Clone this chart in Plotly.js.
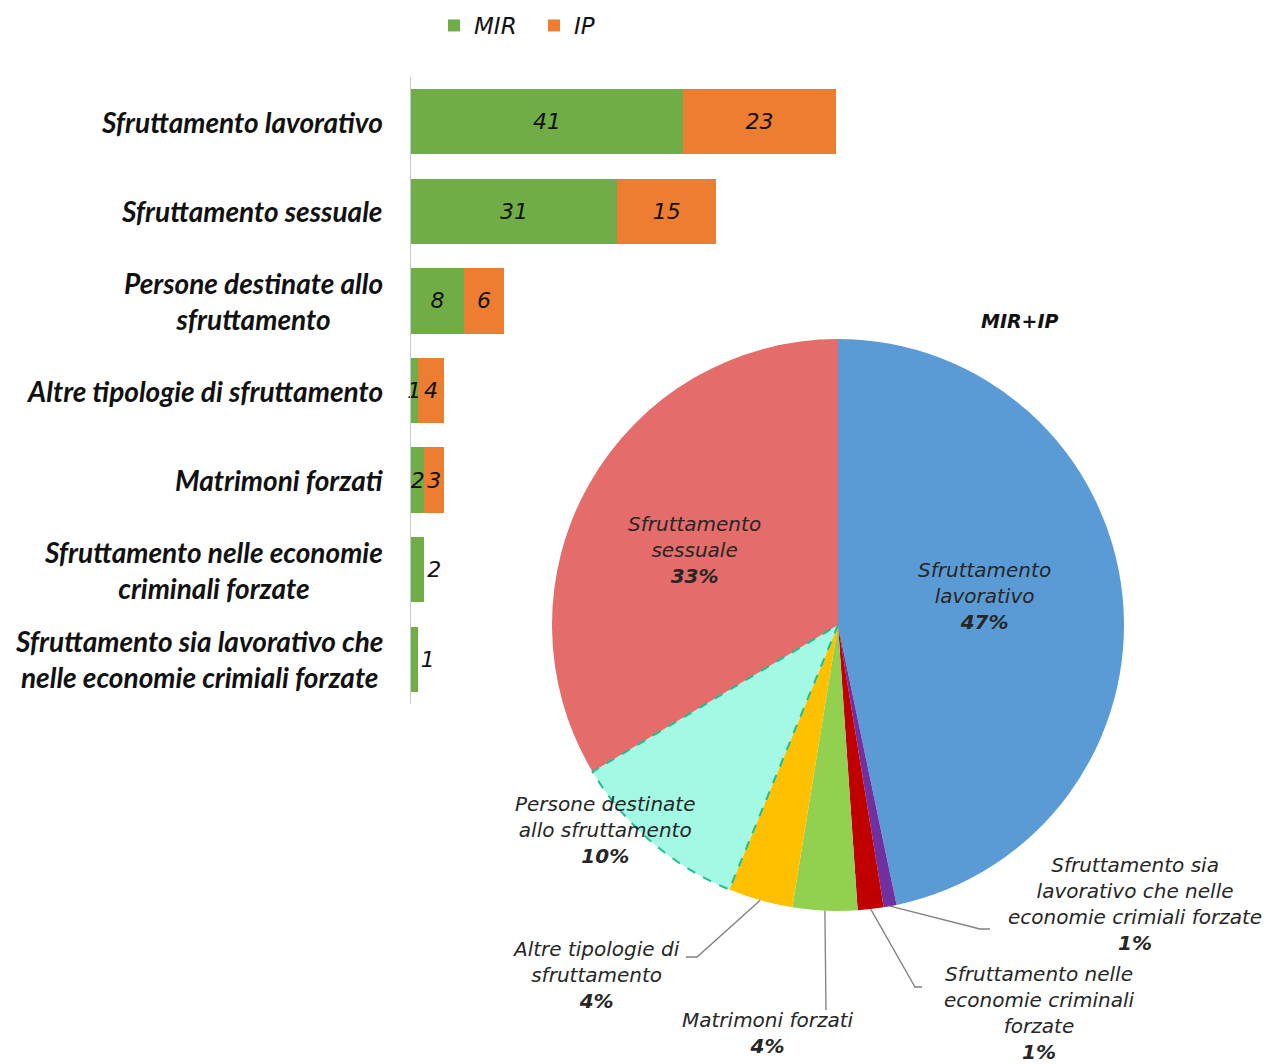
<!DOCTYPE html>
<html>
<head>
<meta charset="utf-8">
<script src="https://cdn.plot.ly/plotly-3.0.1.min.js"></script>
<style>html,body{margin:0;padding:0;background:#fff;}#chart{width:1270px;height:1064px;}</style>
</head>
<body>
<div id="chart"></div>
<script>
// ---- Data ----
const categories = [
  'Sfruttamento lavorativo',
  'Sfruttamento sessuale',
  'Persone destinate allo sfruttamento',
  'Altre tipologie di sfruttamento',
  'Matrimoni forzati',
  'Sfruttamento nelle economie criminali forzate',
  'Sfruttamento sia lavorativo che nelle economie crimiali forzate'
];
const categoryTickLabels = [
  'Sfruttamento lavorativo',
  'Sfruttamento sessuale',
  'Persone destinate allo<br>sfruttamento',
  'Altre tipologie di sfruttamento',
  'Matrimoni forzati',
  'Sfruttamento nelle economie<br>criminali forzate',
  'Sfruttamento sia lavorativo che<br>nelle economie crimiali forzate'
];
const mirValues = [41, 31, 8, 1, 2, 2, 1];
const ipValues  = [23, 15, 6, 4, 3, null, null];
const seriesNames = ['MIR', 'IP'];

// pie: slice order clockwise from 12 o'clock (indices into categories)
const pieOrder = [0, 6, 5, 4, 3, 2, 1];
const pieLabelText = [
  'Sfruttamento<br>lavorativo',
  'Sfruttamento sia<br>lavorativo che nelle<br>economie crimiali forzate',
  'Sfruttamento nelle<br>economie criminali<br>forzate',
  'Matrimoni forzati',
  'Altre tipologie di<br>sfruttamento',
  'Persone destinate<br>allo sfruttamento',
  'Sfruttamento<br>sessuale'
];
const pieShareLabels = ['47%', '1%', '1%', '4%', '4%', '10%', '33%'];
const pieTitle = 'MIR+IP';

// ---- Derived ----
const pieValues = pieOrder.map(i => mirValues[i] + (ipValues[i] || 0));
const pieLabels = pieOrder.map(i => categories[i]);

// ---- Layout helpers (pixel -> paper) ----
const W = 1270, H = 1064;
const px = x => x / W;
const py = y => 1 - y / H;

const pieColors = ['#5B9BD5', '#7030A0', '#C00000', '#92D050', '#FFC000', '#A3F9E3', '#E46C6A'];
const cx = 838, cy = 625, R = 286;

const total = pieValues.reduce((a, b) => a + b, 0);
const cum = [0];
pieValues.forEach(v => cum.push(cum[cum.length - 1] + v));
const angleAt = f => 2 * Math.PI * f; // clockwise from top
const ptAt = (ang, r) => [cx + r * Math.sin(ang), cy - r * Math.cos(ang)];

const labelFont = {family: 'DejaVu Sans', size: 20, style: 'italic', color: '#262626'};

// label centers (pixels) and leader line end points for outside labels
const labelPos = [
  {x: 984, y: 596},
  {x: 1135, y: 904, lead: [[980, 929], [990, 929]]},
  {x: 1039, y: 1013, lead: [[915, 987], [922, 987]]},
  {x: 768, y: 1033, lead: [[826, 1010]]},
  {x: 596, y: 975, lead: [[697, 957], [686, 957]]},
  {x: 605, y: 830},
  {x: 694, y: 550}
];

const annotations = [];
const shapes = [];

// category labels
categories.forEach((c, i) => {
  annotations.push({
    xref: 'paper', yref: 'y', x: px(385), y: c, xanchor: 'right', yanchor: 'middle',
    text: categoryTickLabels[i], showarrow: false, align: 'center',
    font: {family: 'Lato', size: 28, weight: 'bold', style: 'italic', color: '#111'}
  });
});

// pie labels + leader lines
pieValues.forEach((v, i) => {
  const p = labelPos[i];
  annotations.push({
    xref: 'paper', yref: 'paper', x: px(p.x), y: py(p.y), xanchor: 'center', yanchor: 'middle',
    text: pieLabelText[i] + '<br><b>' + pieShareLabels[i] + '</b>', showarrow: false, align: 'center',
    font: labelFont
  });
  if (p.lead) {
    const mid = angleAt((cum[i] + cum[i + 1]) / 2 / total);
    const tip = ptAt(mid, R);
    let path = 'M ' + px(tip[0]) + ' ' + py(tip[1]);
    p.lead.forEach(q => { path += ' L ' + px(q[0]) + ' ' + py(q[1]); });
    shapes.push({type: 'path', xref: 'paper', yref: 'paper', path: path,
      line: {color: '#808080', width: 1.3}});
  }
});

// dashed outline for "Persone destinate allo sfruttamento" slice
(function () {
  const k = 5;
  const a0 = angleAt(cum[k] / total), a1 = angleAt(cum[k + 1] / total);
  let path = 'M ' + px(cx) + ' ' + py(cy);
  const n = 40;
  for (let j = 0; j <= n; j++) {
    const p = ptAt(a0 + (a1 - a0) * j / n, R);
    path += ' L ' + px(p[0]) + ' ' + py(p[1]);
  }
  path += ' Z';
  shapes.push({type: 'path', xref: 'paper', yref: 'paper', path: path,
    line: {color: '#1FBF8F', width: 2, dash: 'dash'}});
})();

// pie title
annotations.push({
  xref: 'paper', yref: 'paper', x: px(1020), y: py(321), xanchor: 'center', yanchor: 'middle',
  text: '<b>' + pieTitle + '</b>', showarrow: false,
  font: {family: 'DejaVu Sans', size: 19, style: 'italic', color: '#111'}
});

const numFont = {family: 'DejaVu Sans', size: 22, style: 'italic', color: '#111'};

const traces = [
  {
    type: 'bar', orientation: 'h', name: seriesNames[0],
    y: categories, x: mirValues,
    text: mirValues.map(String),
    textposition: mirValues.map((v, i) => ipValues[i] == null ? 'outside' : 'inside'),
    insidetextanchor: 'middle', constraintext: 'none', textangle: 0,
    textfont: numFont, insidetextfont: numFont, outsidetextfont: numFont,
    marker: {color: '#70AD47'}, cliponaxis: false, hoverinfo: 'skip'
  },
  {
    type: 'bar', orientation: 'h', name: seriesNames[1],
    y: categories, x: ipValues,
    text: ipValues.map(v => v == null ? '' : String(v)),
    textposition: 'inside', insidetextanchor: 'middle', constraintext: 'none', textangle: 0,
    textfont: numFont, insidetextfont: numFont,
    marker: {color: '#ED7D31'}, cliponaxis: false, hoverinfo: 'skip'
  },
  {
    type: 'pie', labels: pieLabels, values: pieValues, sort: false, direction: 'clockwise',
    rotation: 0, textinfo: 'none', showlegend: false, hoverinfo: 'skip',
    marker: {colors: pieColors, line: {width: 0}},
    domain: {x: [px(cx - R), px(cx + R)], y: [py(cy + R), py(cy - R)]}
  }
];

const layout = {
  width: W, height: H,
  margin: {l: 0, r: 0, t: 0, b: 0},
  paper_bgcolor: '#fff', plot_bgcolor: 'rgba(0,0,0,0)',
  barmode: 'stack', bargap: 0.27,
  showlegend: true,
  legend: {orientation: 'h', x: px(434), y: py(4), xanchor: 'left', yanchor: 'top',
    font: {family: 'DejaVu Sans', size: 23, style: 'italic', color: '#111'},
    itemwidth: 30, entrywidth: 55, entrywidthmode: 'pixels', traceorder: 'normal'},
  xaxis: {domain: [px(411), 1], range: [0, 859 / 6.64], visible: false, fixedrange: true},
  yaxis: {domain: [py(704), py(77)], type: 'category', autorange: 'reversed',
    showticklabels: false, ticks: '', showgrid: false, zeroline: false,
    showline: true, linecolor: '#C8C8C8', linewidth: 1.5},
  annotations: annotations,
  shapes: shapes
};

Plotly.newPlot('chart', traces, layout, {displayModeBar: false, staticPlot: true});
</script>
</body>
</html>
